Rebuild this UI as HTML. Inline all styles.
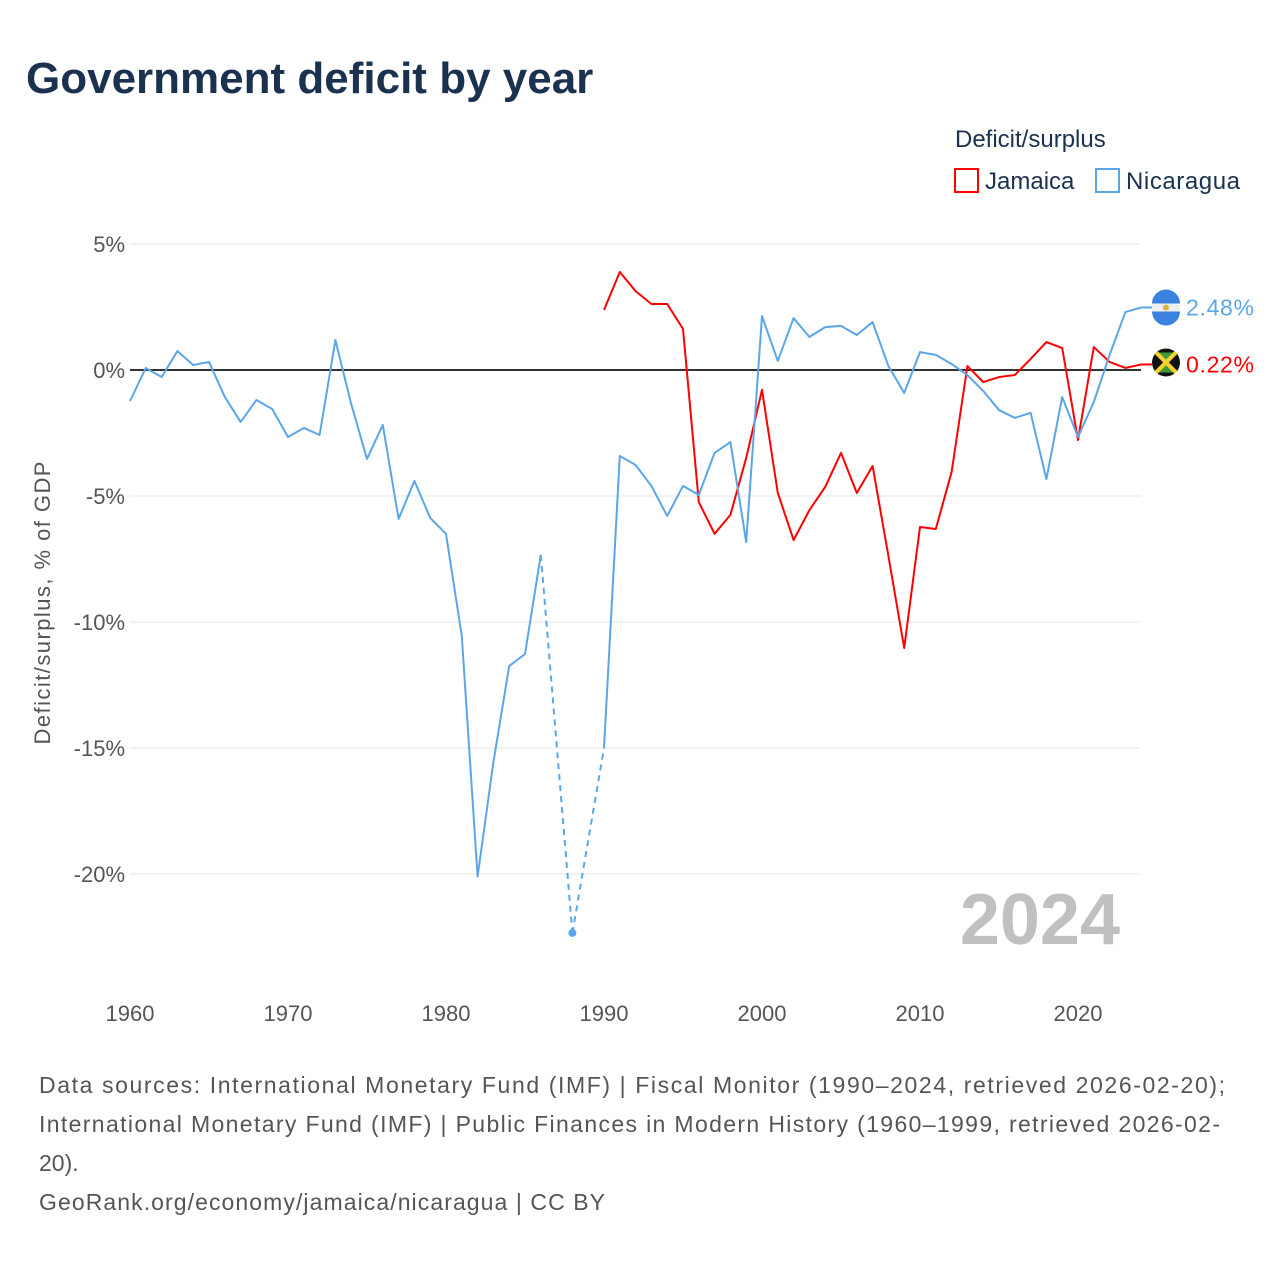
<!DOCTYPE html>
<html><head><meta charset="utf-8"><style>
body{margin:0;background:#fff;font-family:"Liberation Sans",sans-serif;}
#wrap{position:relative;width:1280px;height:1280px;overflow:hidden;}
</style></head><body>
<div id="wrap">
<svg id="chart" width="1280" height="1280" xmlns="http://www.w3.org/2000/svg">
<text x="26" y="93" font-size="44" font-weight="bold" fill="#1a3150">Government deficit by year</text>
<text x="955" y="147" font-size="24" fill="#1a3150">Deficit/surplus</text>
<g><rect x="955" y="169" width="23" height="23" fill="none" stroke="#ff0000" stroke-width="2"/><text x="985" y="189" font-size="24" fill="#1a3150">Jamaica</text></g>
<g><rect x="1096" y="169" width="23" height="23" fill="none" stroke="#5ba6ea" stroke-width="2"/><text x="1126" y="189" font-size="24" fill="#1a3150" textLength="114">Nicaragua</text></g>
<text transform="translate(50,603) rotate(-90)" text-anchor="middle" font-size="22" fill="#555" textLength="283">Deficit/surplus, % of GDP</text>
<g id="grid"></g><g id="series"></g>
<text x="1120" y="944" text-anchor="end" font-size="72" font-weight="bold" fill="#c0c0c0">2024</text>
<g font-size="23" fill="#555">
<text x="39" y="1093" textLength="1186">Data sources: International Monetary Fund (IMF) | Fiscal Monitor (1990–2024, retrieved 2026-02-20);</text>
<text x="39" y="1132" textLength="1181">International Monetary Fund (IMF) | Public Finances in Modern History (1960–1999, retrieved 2026-02-</text>
<text x="39" y="1171">20).</text>
<text x="39" y="1210" textLength="566">GeoRank.org/economy/jamaica/nicaragua | CC BY</text>
</g>
</svg></div>
<script>
const yTicks=[5,0,-5,-10,-15,-20];
const xTicks=[1960,1970,1980,1990,2000,2010,2020];
const nicYears=[1960,1961,1962,1963,1964,1965,1966,1967,1968,1969,1970,1971,1972,1973,1974,1975,1976,1977,1978,1979,1980,1981,1982,1983,1984,1985,1986,1988,1990,1991,1992,1993,1994,1995,1996,1997,1998,1999,2000,2001,2002,2003,2004,2005,2006,2007,2008,2009,2010,2011,2012,2013,2014,2015,2016,2017,2018,2019,2020,2021,2022,2023,2024];
const nicValues=[-1.23,0.08,-0.28,0.75,0.2,0.32,-1.07,-2.06,-1.19,-1.55,-2.66,-2.3,-2.58,1.19,-1.35,-3.53,-2.18,-5.91,-4.4,-5.87,-6.5,-10.56,-20.1,-15.56,-11.75,-11.27,-7.34,-22.34,-15.0,-3.41,-3.77,-4.6,-5.79,-4.6,-4.96,-3.29,-2.86,-6.83,2.14,0.36,2.06,1.31,1.7,1.75,1.39,1.9,0.16,-0.91,0.71,0.6,0.24,-0.2,-0.83,-1.59,-1.9,-1.7,-4.33,-1.07,-2.66,-1.27,0.6,2.3,2.48];
const jamYears=[1990,1991,1992,1993,1994,1995,1996,1997,1998,1999,2000,2001,2002,2003,2004,2005,2006,2007,2008,2009,2010,2011,2012,2013,2014,2015,2016,2017,2018,2019,2020,2021,2022,2023,2024];
const jamValues=[2.38,3.89,3.13,2.62,2.62,1.63,-5.24,-6.5,-5.75,-3.49,-0.79,-4.88,-6.75,-5.56,-4.64,-3.29,-4.88,-3.81,-7.38,-11.03,-6.23,-6.31,-4.05,0.16,-0.48,-0.28,-0.2,0.44,1.11,0.87,-2.78,0.91,0.32,0.08,0.22];
const NS="http://www.w3.org/2000/svg";
const X=y=>130+(y-1960)*15.8;
const Y=v=>370-v*25.2;
function mk(t,a,p){const e=document.createElementNS(NS,t);for(const k in a)e.setAttribute(k,a[k]);p.appendChild(e);return e;}
const grid=document.getElementById('grid'),ser=document.getElementById('series');
yTicks.forEach(v=>{
 const l=mk('line',{x1:130,x2:1141,y1:Y(v),y2:Y(v),stroke:v===0?'#333':'#e6e6e6','stroke-width':v===0?2:1},grid);
 
 
 const t=mk('text',{x:125,y:Y(v)+8,'text-anchor':'end','font-size':22,fill:'#555'},grid);
 t.textContent=v+'%';
 
 
});
xTicks.forEach(y=>{
 const t=mk('text',{x:X(y),y:1021,'text-anchor':'middle','font-size':22,fill:'#555'},grid);
 t.textContent=y;
 
 
});
function draw(years,vals,color,name){
 const g=mk('g',{},ser);
 
 
 let d='';
 for(let i=0;i<years.length;i++){
  if(i>0&&years[i]-years[i-1]>1){
   const s=mk('line',{x1:X(years[i-1]),y1:Y(vals[i-1]),x2:X(years[i]),y2:Y(vals[i]),stroke:color,'stroke-width':2,'stroke-dasharray':'6,5'},g);
   
   
   d+=' M'+X(years[i])+','+Y(vals[i]);
  } else d+=(i===0?'M':' L')+X(years[i])+','+Y(vals[i]);
  const gapBefore=i===0||years[i]-years[i-1]>1, gapAfter=i===years.length-1||years[i+1]-years[i]>1;
  if(gapBefore&&gapAfter&&i>0&&i<years.length-1){
   const c=mk('circle',{cx:X(years[i]),cy:Y(vals[i]),r:4,fill:color},g);
   
   
  }
 }
 const p=mk('path',{d:d,fill:'none',stroke:color,'stroke-width':2,'stroke-linejoin':'round'},g);
 
 
 const last=vals.length-1,ly=Y(vals[last]);
 const ln=mk('line',{x1:X(years[last]),y1:ly,x2:1152,y2:ly,stroke:color,'stroke-width':2},g);
 
 
 const t=mk('text',{x:1186,y:ly+8,'font-size':23,fill:color,textLength:68},g);
 t.textContent=vals[last].toFixed(2)+'%';
 
 
 return ly;
}
const jy=draw(jamYears,jamValues,'#ff0000','jamaica');
const ny=draw(nicYears,nicValues,'#5ba6ea','nicaragua');
const fn=mk('g',{},ser);


mk('circle',{cx:1166,cy:ny,r:14,fill:'#eeeeee'},fn);
mk('path',{d:`M1152,${ny-4} A14,14 0 0 1 1180,${ny-4} Z`,fill:'#3b82e0'},fn);
mk('path',{d:`M1152,${ny+4} A14,14 0 0 0 1180,${ny+4} Z`,fill:'#3b82e0'},fn);
mk('circle',{cx:1166,cy:ny,r:3,fill:'#d9b34a'},fn);
const fj=mk('g',{},ser);


const jyy=jy-2;
mk('circle',{cx:1166,cy:jyy,r:14,fill:'#111'},fj);
mk('path',{d:`M1156,${jyy-10} L1176,${jyy-10} L1166,${jyy} Z`,fill:'#3f9a3a'},fj);
mk('path',{d:`M1156,${jyy+10} L1176,${jyy+10} L1166,${jyy} Z`,fill:'#3f9a3a'},fj);
mk('line',{x1:1156,y1:jyy-10,x2:1176,y2:jyy+10,stroke:'#f5d130','stroke-width':4},fj);
mk('line',{x1:1176,y1:jyy-10,x2:1156,y2:jyy+10,stroke:'#f5d130','stroke-width':4},fj);
</script>
</body></html>
